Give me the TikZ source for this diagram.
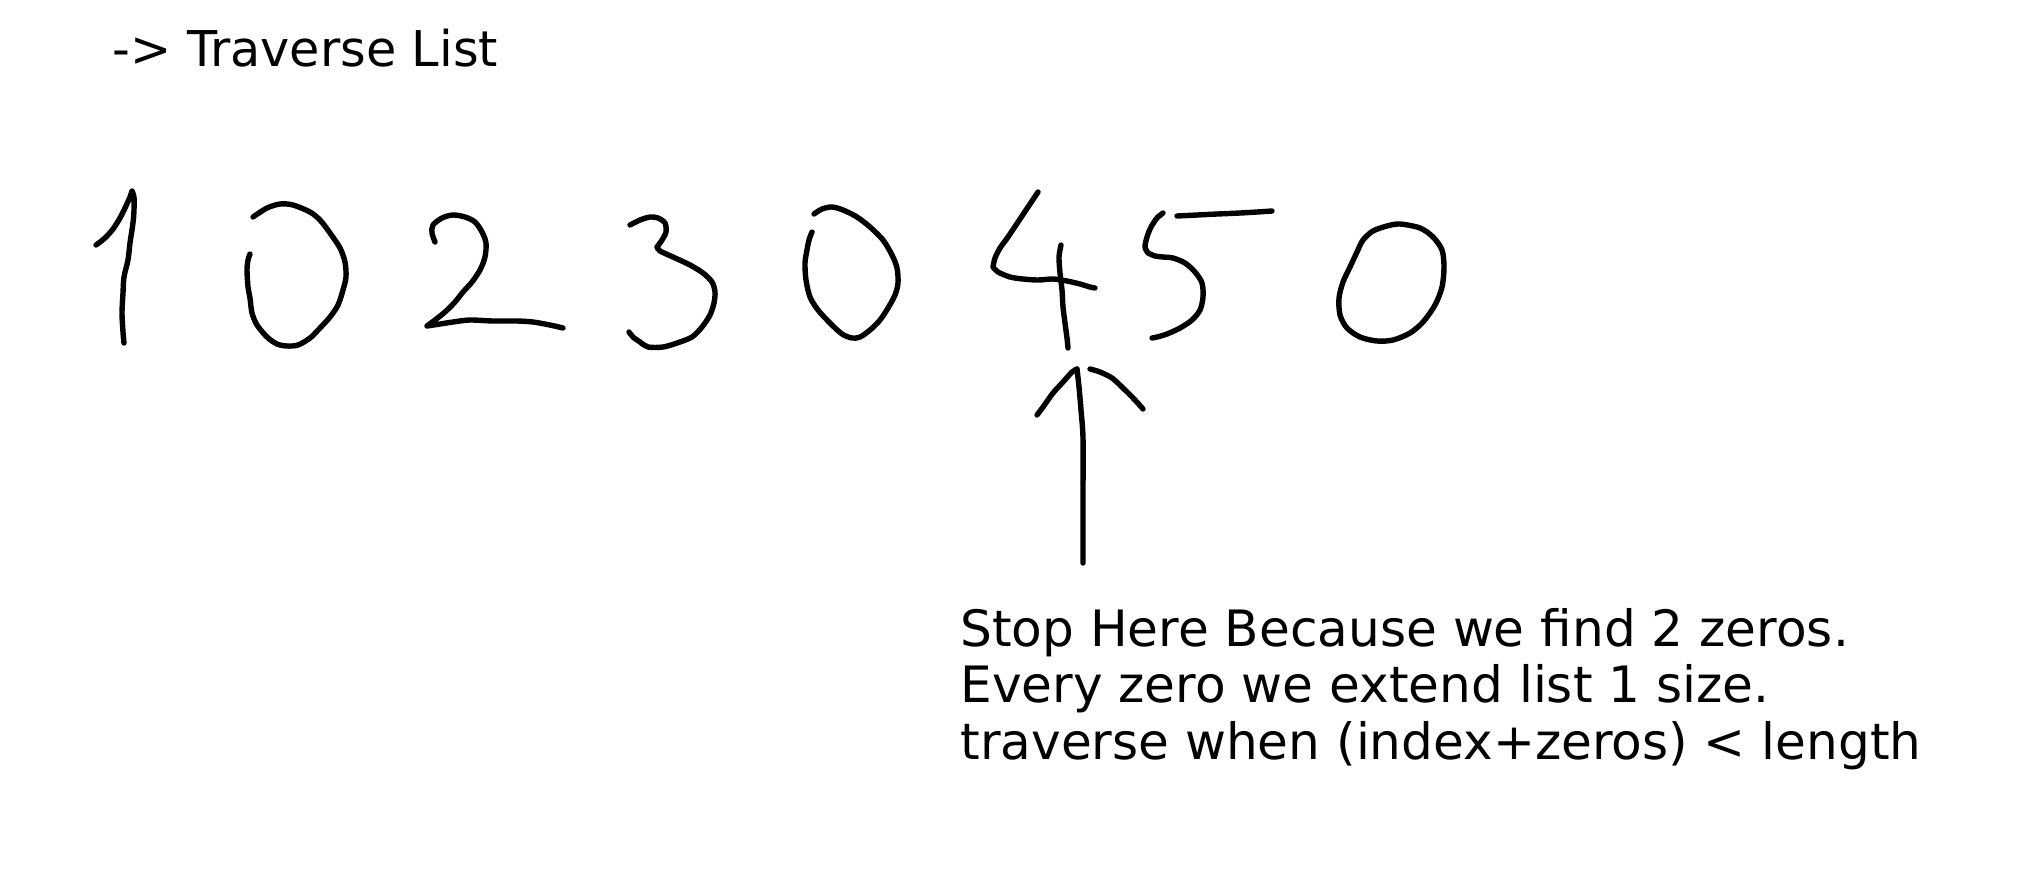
\documentclass[tikz,border=0pt]{standalone}
\usepackage{fontspec}
\setmainfont{DejaVu Sans}
\begin{document}
\begin{tikzpicture}[
    x=0.5pt,y=-0.5pt,
    line cap=round,line join=round,
    ink/.style={draw=black,line width=2.7pt},
    label/.style={inner sep=0pt,font=\fontsize{24.65pt}{28.25pt}\selectfont,align=left}
]
    \useasboundingbox (0,0) rectangle (2027,874);
    \node[label,anchor=base west] (title) at (112,66) {-> Traverse List};
    \node[label,font=\fontsize{25.05pt}{28.25pt}\selectfont,anchor=base west] (note) at (960,759)
        {Stop Here Because we find 2 zeros.\\
         Every zero we extend list 1 size.\\
         traverse when (index+zeros) < length};
    % the list
    \draw[ink] plot[smooth] coordinates {(96,245) (105,238) (113,229) (120,218) (125,208) (130,197) (132,191)}
        plot[smooth] coordinates {(132,191) (134,197) (134,210) (133,223) (130,243) (128,260) (124,277) (123,293) (122,313) (123,332) (124,343)};
    \draw[ink] plot[smooth] coordinates {(253,217) (267,208) (280,204) (293,205) (310,212) (320,220) (330,233) (340,248) (345,262)
        (346,277) (343,290) (338,305) (330,317) (320,328) (310,338) (298,345) (287,346) (277,344) (267,337) (257,325)
        (252,313) (250,298) (248,287) (247,270) (248,260) (250,254)};
    \draw[ink] plot[smooth] coordinates {(435,242) (432,233) (433,225) (442,218) (453,215) (465,217) (475,222) (482,232) (486,243)
        (485,257) (480,270) (472,282) (463,292) (455,302) (445,312) (435,320) (427,326)}
        plot[smooth] coordinates {(427,326) (440,324) (453,322) (470,320) (493,321) (517,321) (533,322) (550,325) (563,328)};
    \draw[ink] plot[smooth] coordinates {(630,225) (640,220) (650,217) (658,218) (665,223) (666,232) (662,240) (657,247)}
        plot[smooth] coordinates {(657,247) (660,251) (673,257) (690,265) (703,273) (712,282) (715,292) (714,303) (710,315)
        (702,327) (692,337) (677,343) (663,347) (648,347) (640,342) (633,337) (629,332)};
    \draw[ink] plot[smooth] coordinates {(814,214) (822,209) (832,207) (843,210) (857,217) (870,227) (883,240) (892,255) (897,268)
        (898,283) (895,295) (888,308) (880,320) (870,330) (860,337) (852,338) (842,334) (830,323) (818,310) (810,297)
        (806,280) (805,263) (807,250) (809,240) (812,232)};
    \draw[ink] plot[smooth] coordinates {(1038,192) (1028,207) (1018,222) (1008,237) (1000,248) (995,258) (993,267)}
        plot[smooth] coordinates {(993,267) (998,272) (1010,277) (1023,279) (1038,280) (1053,279) (1067,281) (1080,284) (1090,287) (1095,288)};
    \draw[ink] plot[smooth] coordinates {(1061,245) (1059,257) (1060,273) (1062,290) (1063,307) (1065,323) (1067,338) (1068,348)};
    \draw[ink] plot[smooth] coordinates {(1163,213) (1157,218) (1151,227) (1147,237) (1145,247) (1148,253)}
        plot[smooth] coordinates {(1148,253) (1155,256) (1163,257) (1173,258) (1185,263) (1195,272) (1202,283) (1203,297) (1200,310)
        (1192,320) (1180,328) (1167,334) (1157,337) (1152,338)};
    \draw[ink] plot[smooth] coordinates {(1177,216) (1197,215) (1217,214) (1240,213) (1257,212) (1272,211)};
    \draw[ink] plot[smooth cycle] coordinates {(1400,224) (1420,228) (1433,237) (1442,250) (1444,267) (1442,287) (1435,305)
        (1423,322) (1410,333) (1393,340) (1377,341) (1360,337) (1347,328) (1340,315) (1339,298) (1343,282) (1350,267)
        (1357,252) (1363,240) (1373,231) (1387,226)};
    % arrow up to the 4
    \coordinate (tip) at (1077,369);
    \coordinate (tail) at (1083,563);
    \draw[ink] plot[smooth] coordinates {(tail) (1083,493) (1083,438) (1081,410) (1079,387) (tip)};
    \draw[ink] plot[smooth] coordinates {(1037,415) (1043,407) (1053,393) (1063,382) (1072,372) (tip)};
    \draw[ink] plot[smooth] coordinates {(1090,369) (1100,372) (1112,378) (1123,388) (1135,400) (1143,409)};
\end{tikzpicture}
\end{document}
